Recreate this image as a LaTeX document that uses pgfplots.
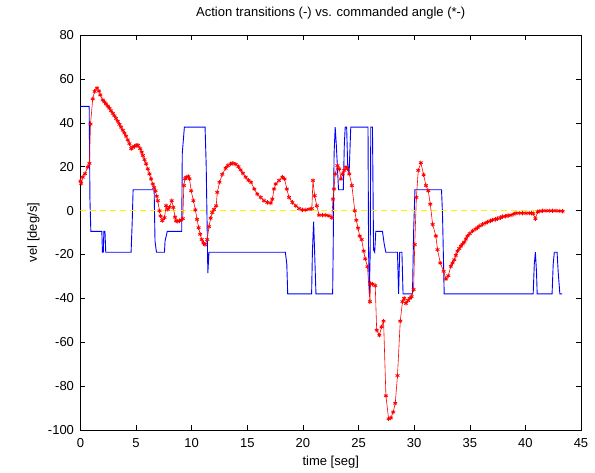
\documentclass[border=0pt]{standalone}
\usepackage{fontspec}
\setmainfont{Liberation Sans}
\usepackage{pgfplots}
\pgfplotsset{compat=1.18}

\begin{document}
\fontsize{13}{15}\selectfont
\begin{tikzpicture}
\begin{axis}[
  at={(0,0)}, anchor=south west,
  scale only axis, width=500.5pt, height=395pt,
  xmin=0, xmax=45, ymin=-100, ymax=80,
  xtick={0,5,...,45}, ytick={-100,-80,...,80},
  tick align=inside, tick pos=both, major tick length=5pt,
  tick style={black, line width=0.5pt},
  axis line style={black, line width=0.6pt},
  /pgf/number format/assume math mode=true,
  title={Action transitions (-) vs. commanded angle (*-)},
  title style={at={(axis description cs:0.5,1.032)}, anchor=base, inner sep=0pt},
  xlabel={time [seg]},
  xlabel style={at={(axis description cs:0.5,-0.091)}, anchor=base, inner sep=0pt},
  ylabel={vel [deg/s]},
  ylabel style={at={(axis description cs:-0.087,0.5)}, anchor=base, inner sep=0pt},
  xticklabel style={anchor=base, yshift=-18pt},
  yticklabel style={anchor=east, xshift=-2pt},
]
% discrete action level
\addplot[blue, line width=0.9pt] coordinates {
(0,47.5) (0.78,47.5) (0.85,5) (0.93,-9.5) (1.92,-9.5) (1.97,-19) (2.05,-19)
(2.1,-9.5) (2.2,-9.5) (2.27,-19) (4.55,-19) (4.65,-5) (4.73,9.5) (6.62,9.5)
(6.7,-14) (6.83,-19) (7.55,-19) (7.6,-14) (7.8,-9.5) (9.1,-9.5) (9.15,26)
(9.34,38) (11.2,38) (11.3,21) (11.45,-28.5) (11.55,-19) (18.42,-19)
(18.55,-24.5) (18.63,-38) (20.78,-38) (20.85,-19) (20.96,-5) (21.05,-19)
(21.17,-38) (22.67,-38) (22.72,-17) (22.8,26) (22.9,38) (23.0,30) (23.2,9.5)
(23.63,9.5) (23.72,30) (23.8,38) (23.93,38) (24.02,21) (24.15,17) (24.3,38)
(25.85,38) (25.9,-18) (25.97,-38) (26.05,-18) (26.1,38) (26.25,38)
(26.35,-18) (26.45,-19) (26.55,-9.5) (27.15,-9.5) (27.3,-15) (27.45,-19)
(28.5,-19) (28.6,-38) (28.7,-19) (28.9,-19) (29.0,-38) (29.85,-38)
(29.95,-10) (30.07,9.5) (32.46,9.5) (32.55,-2) (32.7,-38) (40.7,-38)
(40.8,-24.5) (40.9,-19) (41.0,-28) (41.06,-38) (42.4,-38) (42.5,-24.5)
(42.6,-19) (42.85,-19) (42.95,-28) (43.1,-38) (43.3,-38)
};
% zero reference
\addplot[yellow, line width=0.8pt, dash pattern=on 6pt off 4pt] coordinates {(0,0) (43.4,0)};
% commanded angle
\addplot[red, line width=0.6pt, mark=asterisk, mark size=2.2pt, mark options={line width=0.8pt}] coordinates {
(0.0,13.5) (0.06,12.4) (0.2,15.2) (0.4,16.8) (0.65,19.8) (0.8,21.5) (0.9,39.4)
(1.1,50.9) (1.27,54.3) (1.48,55.8) (1.66,54.5) (1.78,52.7) (2.0,50.4)
(2.15,49.5) (2.3,48.6) (2.45,47.6) (2.6,46.6) (2.75,45.5) (2.9,44.3)
(3.05,43.2) (3.2,42) (3.35,40.7) (3.5,39.3) (3.65,38) (3.8,36.6) (3.95,35.3)
(4.1,33.9) (4.25,32.2) (4.4,30.5) (4.56,28.2) (4.7,28.8) (4.86,29.3) (5.0,29.7)
(5.16,29.7) (5.37,28.2) (5.5,26.6) (5.6,25.1) (5.75,23.2) (5.9,21.3) (6.05,19)
(6.2,16.7) (6.35,14.4) (6.5,12.1) (6.62,10.5) (6.75,9) (6.85,6.5) (6.95,4.5)
(7.1,-0.1) (7.2,-2.5) (7.35,-4.6) (7.55,-3.2) (7.7,2.2) (7.85,0.5) (8.0,1.5)
(8.2,4.5) (8.35,1.4) (8.5,-3) (8.6,-4.7) (8.75,-4.9) (8.9,-4.7) (9.05,-4.3)
(9.2,-3.7) (9.29,11.4) (9.4,14.5) (9.5,15.2) (9.7,15.5) (9.8,14.5) (9.95,9)
(10.15,4.5) (10.33,0.3) (10.48,-4) (10.62,-7.8) (10.76,-10.8) (10.9,-13.2)
(11.05,-14.8) (11.2,-15.5) (11.4,-13.2) (11.55,-7.3) (11.7,-3.5) (11.85,-0.9)
(12.0,0.5) (12.2,2.2) (12.3,8.3) (12.5,12.9) (12.75,16.5) (13.05,19.3)
(13.25,20.5) (13.5,21.3) (13.7,21.5) (13.95,21.1) (14.2,20) (14.4,18.5)
(14.6,17) (14.85,15.2) (15.1,13.8) (15.33,12.9) (15.63,9.8) (15.9,7.5)
(16.2,6) (16.5,4.5) (16.8,3.7) (17.1,3.4) (17.25,5.2) (17.4,9.8) (17.55,12.1)
(17.85,13.7) (18.15,15.2) (18.35,14.4) (18.55,9.8) (18.75,6) (19.05,3.7)
(19.35,2.2) (19.65,0.9) (19.95,0.3) (20.25,0.3) (20.55,0.6) (20.8,0.9)
(20.9,13.7) (21.05,6.8) (21.25,2.2) (21.45,-2.1) (21.75,-2.1) (22.05,-2.1)
(22.35,-2.4) (22.6,-3.2) (22.7,5.2) (22.79,9.8) (22.9,16.7) (23.1,20.5)
(23.27,19) (23.42,14.4) (23.57,16.7) (23.72,18.3) (23.87,19.8) (24.0,19)
(24.17,16.7) (24.4,11.4) (24.66,-0.1) (24.8,-4.4) (24.95,-8) (25.1,-11.6)
(25.28,-13.2) (25.46,-18.5) (25.6,-22) (25.8,-25.6) (26.02,-41.5)
(26.08,-33.3) (26.26,-33.5) (26.5,-34.2) (26.63,-54.5) (26.87,-56.8)
(27.07,-53) (27.25,-50.4) (27.46,-84.4) (27.7,-94.9) (27.9,-94.5)
(28.12,-91.8) (28.3,-87.8) (28.5,-75.2) (28.75,-50.4) (28.95,-41.5)
(29.1,-40) (29.26,-42.3) (29.45,-41) (29.6,-40) (29.77,-39.2) (29.95,-36)
(30.05,-15.5) (30.2,6) (30.37,18.3) (30.6,21.8) (30.85,16.3) (31.06,11.4)
(31.27,9) (31.45,2.9) (31.66,-6.3) (31.95,-11.6) (32.1,-17.8) (32.35,-23.9)
(32.65,-27.7) (32.86,-31.2) (33.07,-29.7) (33.3,-25.4) (33.45,-23.9)
(33.6,-22.4) (33.75,-20.4) (33.9,-18.5) (34.05,-17.3) (34.2,-16.2)
(34.35,-15.3) (34.5,-14.4) (34.65,-13) (34.8,-11.6) (35.0,-10.5) (35.25,-9.3)
(35.5,-8.5) (35.7,-7.8) (35.9,-7) (36.15,-6.3) (36.4,-5.7) (36.6,-5.2)
(36.85,-4.7) (37.05,-4.3) (37.3,-4) (37.5,-3.7) (37.75,-3.2) (37.95,-2.8)
(38.2,-2.6) (38.45,-2.3) (38.7,-2.1) (38.95,-1.6) (39.15,-1.2) (39.45,-1.2)
(39.75,-1.2) (40.05,-1.2) (40.35,-1.2) (40.55,-1.2) (40.7,-1.4) (40.9,-3.7)
(41.1,-0.6) (41.3,-0.3) (41.55,-0.1) (41.85,-0.1) (42.15,-0.1) (42.45,-0.1)
(42.75,-0.1) (43.05,-0.2) (43.35,-0.3)
};
\end{axis}
\pgfresetboundingbox
\path (-80.5pt,-43pt) rectangle (514.5pt,430pt);
\end{tikzpicture}
\end{document}
